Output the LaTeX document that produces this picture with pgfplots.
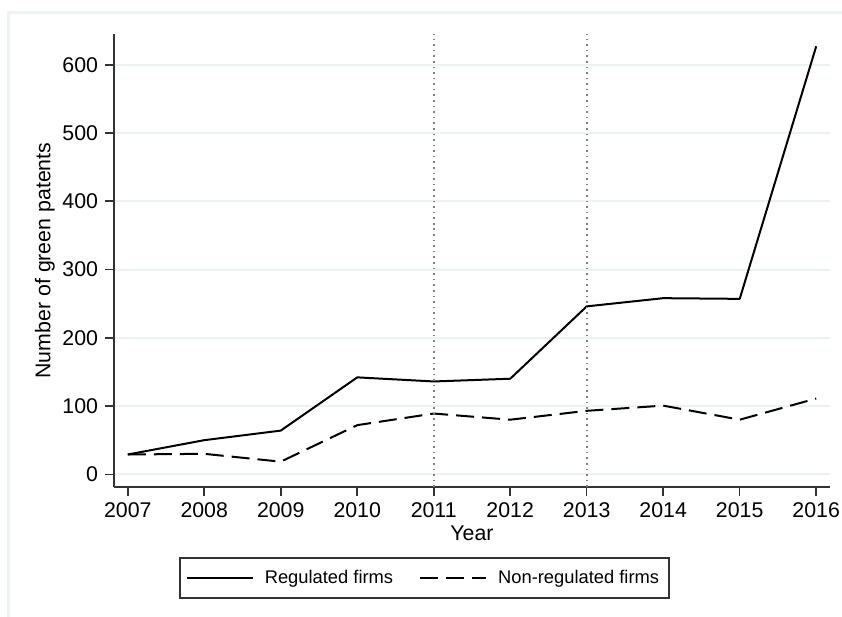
\documentclass[border=0pt]{standalone}
\usepackage{fontspec}
\setmainfont{Liberation Sans}
\usepackage{pgfplots}
\pgfplotsset{compat=1.18}
\definecolor{gridc}{HTML}{EAF2F3}
\definecolor{framec}{HTML}{EEF3F3}
\definecolor{axc}{HTML}{333333}
\begin{document}
\begin{tikzpicture}
\begin{axis}[name=ax, scale only axis, width=358bp, height=226.5bp,
 xmin=2006.82, xmax=2016.18, ymin=-18.6, ymax=645,
 axis x line*=bottom, axis y line*=left,
 axis line style={axc, line width=1bp},
 xtick={2007,...,2016}, ytick={0,100,...,600},
 x tick label style={/pgf/number format/1000 sep={}},
 /pgf/number format/assume math mode=true,
 tick align=outside, major tick length=4.5bp, tick style={axc, line width=0.8bp},
 ymajorgrids, grid style={gridc, line width=1bp},
 ticklabel style={font=\fontsize{10.7}{12}\selectfont},
 xlabel=Year, ylabel=Number of green patents,
 label style={font=\fontsize{10.7}{12}\selectfont},
 xlabel style={at={(rel axis cs:0.5,-0.1015)}, anchor=center},
 ylabel style={at={(rel axis cs:-0.0964,0.5)}, anchor=center},
 legend style={at={(rel axis cs:0.0908,-0.1545)}, anchor=north west, legend columns=2,
   draw=axc, line width=0.8bp, font=\fontsize{9.2}{11}\selectfont,
   inner xsep=3bp, inner ysep=4bp,
   /tikz/every odd column/.append style={column sep=3.5bp},
   /tikz/every even column/.append style={column sep=11bp}},
 legend image code/.code={\draw[#1] (0bp,0bp) -- (33bp,0bp);},
 legend cell align=left,
]
\addplot[black, line width=1bp, line join=round] coordinates {(2007,29)(2008,50)(2009,64)(2010,142)(2011,136)(2012,140)(2013,246)(2014,258)(2015,257)(2016,627)};
\addlegendentry{Regulated firms}
\addplot[black, line width=1bp, line join=round, dash pattern=on 9bp off 4bp] coordinates {(2007,29)(2008,30)(2009,18.5)(2010,72)(2011,89)(2012,80)(2013,93)(2014,100.6)(2015,80)(2016,111)};
\addlegendentry{Non-regulated firms}
\addplot[gray, dotted, line width=0.8bp, forget plot] coordinates {(2011,-18.6)(2011,645)};
\addplot[gray, dotted, line width=0.8bp, forget plot] coordinates {(2013,-18.6)(2013,645)};
\end{axis}
\draw[framec, line width=1.5bp] ([shift={(-52.5bp,-65bp)}]ax.south west) -- ([shift={(-52.5bp,237bp)}]ax.south west) -- ([shift={(364bp,237bp)}]ax.south west);
\pgfresetboundingbox
\path ([shift={(-57bp,243.5bp)}]ax.south west) rectangle ([shift={(364bp,-65bp)}]ax.south west);
\end{tikzpicture}
\end{document}
